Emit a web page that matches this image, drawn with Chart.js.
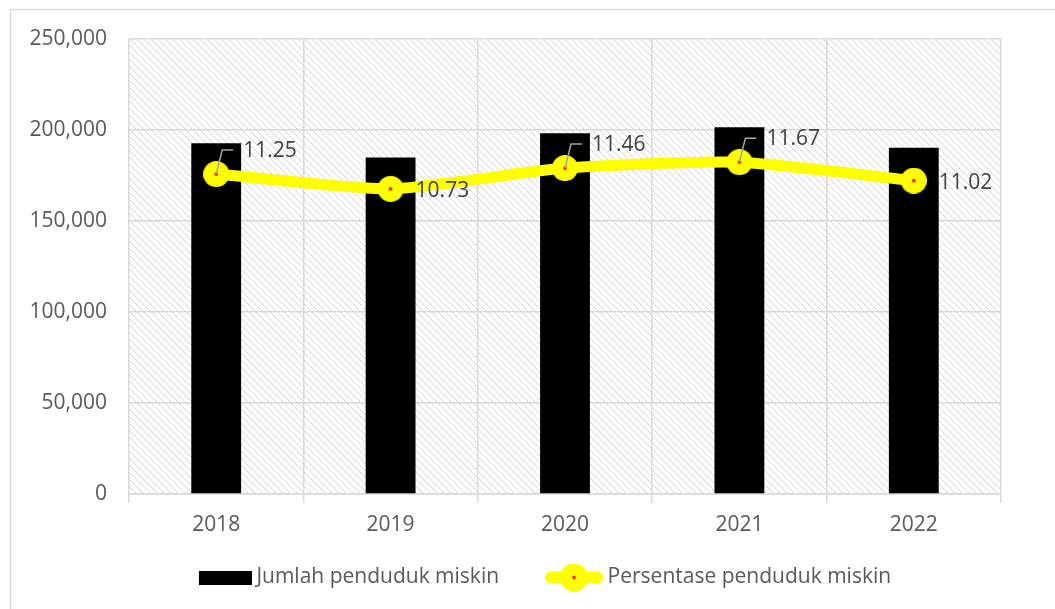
<!DOCTYPE html>
<html>
<head>
<meta charset="utf-8">
<script src="https://cdn.jsdelivr.net/npm/chart.js@4.4.1/dist/chart.umd.min.js"></script>
<style>
  html, body { margin: 0; padding: 0; background: #fff; }
  #wrap { width: 1055px; height: 609px; position: relative; }
</style>
</head>
<body>
<div id="wrap"><canvas id="myChart1" width="1055" height="609"></canvas></div>
<script>
var years = ['2018', '2019', '2020', '2021', '2022'];
var jumlahMiskin = [192750, 184900, 198250, 201550, 190200];
var persenMiskin = [11.25, 10.73, 11.46, 11.67, 11.02];
var yTicks = [0, 50000, 100000, 150000, 200000, 250000];

(function() {
	var FONT = "'Open Sans', 'DejaVu Sans', sans-serif";
	var GRID = '#d9d9d9';
	var BOX = 88;

	// hatched tile for the plot area
	var tile = document.createElement('canvas');
	tile.width = 7; tile.height = 7;
	var t = tile.getContext('2d');
	t.fillStyle = '#fff';
	t.fillRect(0, 0, 7, 7);
	t.strokeStyle = '#d2d2d2';
	t.lineWidth = 1;
	t.beginPath();
	t.moveTo(-1, -1); t.lineTo(8, 8);
	t.moveTo(-1, 6); t.lineTo(2, 9);
	t.moveTo(6, -1); t.lineTo(9, 2);
	t.stroke();

	// point marker: yellow disc with small red centre
	var dot = document.createElement('canvas');
	dot.width = 26; dot.height = 26;
	var d = dot.getContext('2d');
	d.fillStyle = '#ffff00';
	d.beginPath(); d.arc(13, 13, 13, 0, Math.PI * 2); d.fill();
	d.fillStyle = '#ff0000';
	d.beginPath(); d.arc(13, 13, 1.8, 0, Math.PI * 2); d.fill();

	// legend icons (transparent on the left so the icon sits right next to its text)
	var W = BOX + 12;
	var barIcon = document.createElement('canvas');
	barIcon.width = W; barIcon.height = 14;
	var b = barIcon.getContext('2d');
	b.fillStyle = '#000';
	b.fillRect(W - 53, 0, 53, 14);

	var lineIcon = document.createElement('canvas');
	lineIcon.width = W; lineIcon.height = 28;
	var l = lineIcon.getContext('2d');
	var cx = W - 29;
	l.strokeStyle = '#ffff00';
	l.lineWidth = 12;
	l.lineCap = 'round';
	l.beginPath(); l.moveTo(cx - 23, 14); l.lineTo(cx + 23, 14); l.stroke();
	l.fillStyle = '#ffff00';
	l.beginPath(); l.arc(cx, 14, 14, 0, Math.PI * 2); l.fill();
	l.fillStyle = '#ff0000';
	l.beginPath(); l.arc(cx, 14, 1.8, 0, Math.PI * 2); l.fill();

	var background = {
		id: 'background',
		beforeDraw: function(chart) {
			var ctx = chart.ctx, a = chart.chartArea;
			ctx.save();
			ctx.fillStyle = ctx.createPattern(tile, 'repeat');
			ctx.fillRect(a.left, a.top, a.right - a.left, a.bottom - a.top);
			ctx.strokeStyle = GRID;
			ctx.lineWidth = 1.5;
			ctx.beginPath();
			ctx.moveTo(10.5, 609); ctx.lineTo(10.5, 9.5); ctx.lineTo(1055, 9.5);
			ctx.stroke();
			ctx.restore();
		}
	};

	// labels: 'up' = above-right with leader line, 'right' = beside the point
	var placement = ['up', 'right', 'up', 'up', 'right'];
	var pointLabels = {
		id: 'pointLabels',
		afterDatasetsDraw: function(chart) {
			var ctx = chart.ctx;
			var meta = chart.getDatasetMeta(1);
			ctx.save();
			ctx.font = '21px ' + FONT;
			ctx.fillStyle = '#404040';
			ctx.textBaseline = 'middle';
			ctx.textAlign = 'left';
			meta.data.forEach(function(pt, i) {
				var txt = persenMiskin[i].toFixed(2);
				if (placement[i] === 'up') {
					ctx.strokeStyle = '#a6a6a6';
					ctx.lineWidth = 1.5;
					ctx.beginPath();
					ctx.moveTo(pt.x, pt.y);
					ctx.lineTo(pt.x + 6, pt.y - 24);
					ctx.lineTo(pt.x + 17, pt.y - 24);
					ctx.stroke();
					ctx.fillText(txt, pt.x + 27, pt.y - 23);
				} else {
					ctx.fillText(txt, pt.x + 25, pt.y + 2);
				}
			});
			ctx.restore();
		}
	};

	var ctx = document.getElementById('myChart1').getContext('2d');

	var data = {
		labels: years,
		datasets: [
			{
				type: 'bar',
				label: 'Jumlah penduduk miskin',
				data: jumlahMiskin,
				backgroundColor: '#000000',
				categoryPercentage: 1,
				barPercentage: 0.2857,
				yAxisID: 'y',
				order: 1
			},
			{
				type: 'line',
				label: 'Persentase penduduk miskin',
				data: persenMiskin,
				borderColor: '#ffff00',
				borderWidth: 11,
				tension: 0.2,
				pointStyle: dot,
				pointRadius: 13,
				yAxisID: 'y2',
				order: 0
			}
		]
	};

	var options = {
		responsive: false,
		animation: false,
		layout: { padding: { left: 16, top: 39, right: 22, bottom: 11 } },
		plugins: {
			tooltip: { enabled: false },
			legend: {
				position: 'bottom',
				labels: {
					usePointStyle: true,
					pointStyleWidth: BOX,
					padding: 10,
					color: '#595959',
					font: { family: FONT, size: 21 },
					sort: function(a, b) { return a.datasetIndex - b.datasetIndex; },
					generateLabels: function(chart) {
						var items = Chart.defaults.plugins.legend.labels.generateLabels(chart);
						items.forEach(function(it) {
							it.pointStyle = it.datasetIndex === 0 ? barIcon : lineIcon;
							it.rotation = 0;
						});
						return items;
					}
				}
			}
		},
		scales: {
			x: {
				grid: { color: GRID, lineWidth: 1.5, offset: true, tickLength: 9, tickColor: GRID },
				border: { color: GRID, width: 1.5 },
				ticks: { color: '#595959', font: { family: FONT, size: 21 }, padding: 9 },
				afterFit: function(scale) {
					scale.height = 609 - 11 - scale.chart.legend.height - 494;
				}
			},
			y: {
				min: 0,
				max: 250000,
				afterBuildTicks: function(scale) {
					scale.ticks = yTicks.map(function(v) { return { value: v }; });
				},
				grid: { color: GRID, lineWidth: 1.5, drawTicks: false },
				border: { display: false },
				ticks: {
					color: '#595959',
					font: { family: FONT, size: 21 },
					padding: 22,
					callback: function(v) { return v.toLocaleString('en-US'); }
				},
				afterFit: function(scale) { scale.width = 113; }
			},
			y2: {
				position: 'right',
				min: 0,
				max: 16,
				grid: { display: false },
				border: { display: false },
				ticks: { display: false },
				afterFit: function(scale) { scale.width = 32; }
			}
		}
	};

	new Chart(ctx, { data: data, options: options, plugins: [background, pointLabels] });
})();
</script>
</body>
</html>
